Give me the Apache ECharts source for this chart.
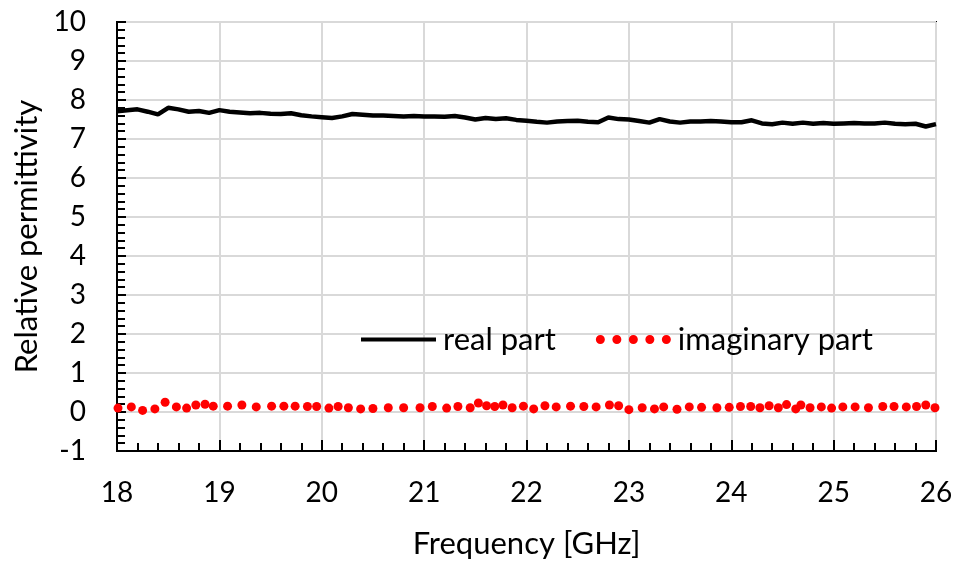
<!DOCTYPE html>
<html>
<head>
<meta charset="utf-8">
<script src="https://cdn.jsdelivr.net/npm/echarts@6/dist/echarts.min.js"></script>
<style>
  html, body { margin: 0; padding: 0; background: #fff; }
  #chart { width: 958px; height: 564px; }
</style>
</head>
<body>
<div id="chart"></div>
<script>
// Real part: measured every 0.1 GHz from 18 to 26 GHz
const realFreq = [
  18.0, 18.1, 18.2, 18.3, 18.4, 18.5, 18.6, 18.7, 18.8, 18.9,
  19.0, 19.1, 19.2, 19.3, 19.4, 19.5, 19.6, 19.7, 19.8, 19.9,
  20.0, 20.1, 20.2, 20.3, 20.4, 20.5, 20.6, 20.7, 20.8, 20.9,
  21.0, 21.1, 21.2, 21.3, 21.4, 21.5, 21.6, 21.7, 21.8, 21.9,
  22.0, 22.1, 22.2, 22.3, 22.4, 22.5, 22.6, 22.7, 22.8, 22.9,
  23.0, 23.1, 23.2, 23.3, 23.4, 23.5, 23.6, 23.7, 23.8, 23.9,
  24.0, 24.1, 24.2, 24.3, 24.4, 24.5, 24.6, 24.7, 24.8, 24.9,
  25.0, 25.1, 25.2, 25.3, 25.4, 25.5, 25.6, 25.7, 25.8, 25.9, 26.0
];
const realPart = [
  7.71, 7.74, 7.76, 7.70, 7.63, 7.80, 7.76, 7.70, 7.72, 7.67,
  7.74, 7.70, 7.68, 7.66, 7.67, 7.65, 7.64, 7.66, 7.61, 7.58,
  7.56, 7.54, 7.58, 7.64, 7.62, 7.60, 7.60, 7.59, 7.58, 7.59,
  7.58, 7.58, 7.57, 7.59, 7.55, 7.50, 7.54, 7.51, 7.53, 7.49,
  7.47, 7.44, 7.42, 7.45, 7.46, 7.47, 7.44, 7.43, 7.55, 7.51,
  7.50, 7.46, 7.42, 7.51, 7.45, 7.42, 7.45, 7.45, 7.46, 7.45,
  7.43, 7.43, 7.48, 7.40, 7.38, 7.42, 7.39, 7.42, 7.39, 7.41,
  7.39, 7.40, 7.41, 7.40, 7.40, 7.42, 7.39, 7.38, 7.39, 7.32, 7.38
];

// Imaginary part: sampled points
const imagFreq = [
  18.01, 18.14, 18.25, 18.37, 18.47, 18.58, 18.68, 18.77, 18.86, 18.94,
  19.08, 19.22, 19.36, 19.51, 19.63, 19.74, 19.86, 19.95, 20.07, 20.16,
  20.26, 20.38, 20.50, 20.65, 20.80, 20.96, 21.08, 21.22, 21.33, 21.45,
  21.53, 21.61, 21.69, 21.77, 21.86, 21.97, 22.07, 22.18, 22.29, 22.43,
  22.56, 22.68, 22.81, 22.90, 23.00, 23.13, 23.25, 23.34, 23.47, 23.59,
  23.71, 23.86, 23.98, 24.09, 24.19, 24.28, 24.37, 24.46, 24.54, 24.63,
  24.68, 24.77, 24.88, 24.98, 25.09, 25.21, 25.34, 25.48, 25.59, 25.71,
  25.81, 25.90, 25.99
];
const imagPart = [
  0.10, 0.13, 0.04, 0.08, 0.25, 0.13, 0.10, 0.18, 0.20, 0.15,
  0.15, 0.18, 0.13, 0.15, 0.15, 0.15, 0.14, 0.14, 0.10, 0.14,
  0.11, 0.08, 0.09, 0.11, 0.11, 0.11, 0.14, 0.10, 0.14, 0.11,
  0.23, 0.16, 0.14, 0.18, 0.11, 0.15, 0.08, 0.16, 0.13, 0.15,
  0.14, 0.13, 0.18, 0.16, 0.06, 0.11, 0.08, 0.13, 0.07, 0.13,
  0.12, 0.11, 0.12, 0.14, 0.14, 0.11, 0.16, 0.11, 0.19, 0.08,
  0.18, 0.11, 0.13, 0.10, 0.13, 0.13, 0.11, 0.14, 0.14, 0.13,
  0.14, 0.18, 0.11
];

const seriesNames = ['real part', 'imaginary part'];
const xTitle = 'Frequency [GHz]';
const yTitle = 'Relative permittivity';

const FONT = 'Lato, "Open Sans", sans-serif';

// Legend icons: a thick bar for the line, five dots in a row for the points
const lineIcon = 'path://M0,0H75V4H0Z';
const dotsIcon = 'path://' + [4.5, 21, 37.5, 54, 70.5].map(function (c) {
  return 'M' + (c - 4.5) + ',4.5a4.5,4.5 0 1,0 9,0a4.5,4.5 0 1,0 -9,0Z';
}).join(' ');

const chart = echarts.init(document.getElementById('chart'), null, { renderer: 'canvas' });

chart.setOption({
  backgroundColor: '#fff',
  animation: false,
  grid: {
    left: 117, right: 22, top: 22, bottom: 113,
    show: true, borderColor: '#000', borderWidth: 2, backgroundColor: 'transparent'
  },
  legend: {
    left: 356, top: 319,
    itemWidth: 75, itemHeight: 9, itemGap: 40,
    textStyle: { fontFamily: FONT, fontSize: 31, color: '#000', padding: [0, 0, 0, 2] },
    data: [
      { name: seriesNames[0], icon: lineIcon },
      { name: seriesNames[1], icon: dotsIcon }
    ]
  },
  xAxis: {
    type: 'value', min: 18, max: 26, interval: 1,
    name: xTitle, nameLocation: 'middle', nameGap: 77,
    nameTextStyle: { fontFamily: FONT, fontSize: 31, color: '#000' },
    axisLine: { show: true, onZero: false, lineStyle: { color: '#000', width: 2 } },
    axisTick: { show: true, inside: true, length: 11, lineStyle: { color: '#000', width: 2 } },
    minorTick: { show: true, splitNumber: 5, length: 8, lineStyle: { color: '#000', width: 2 } },
    axisLabel: { fontFamily: FONT, fontSize: 28, color: '#000', margin: 28 },
    splitLine: { show: true, lineStyle: { color: '#d9d9d9', width: 2 } }
  },
  yAxis: {
    type: 'value', min: -1, max: 10, interval: 1,
    name: yTitle, nameLocation: 'middle', nameGap: 72, nameRotate: 90,
    nameTextStyle: { fontFamily: FONT, fontSize: 31, color: '#000' },
    axisLine: { show: true, onZero: false, lineStyle: { color: '#000', width: 2 } },
    axisTick: { show: true, inside: true, length: 9, lineStyle: { color: '#000', width: 2 } },
    minorTick: { show: true, splitNumber: 5, length: 8, lineStyle: { color: '#000', width: 2 } },
    axisLabel: { fontFamily: FONT, fontSize: 28, color: '#000', margin: 31 },
    splitLine: { show: true, lineStyle: { color: '#d9d9d9', width: 2 } }
  },
  series: [
    {
      name: seriesNames[0],
      type: 'line',
      data: realFreq.map(function (f, i) { return [f, realPart[i]]; }),
      symbol: 'none', showSymbol: false,
      lineStyle: { color: '#000', width: 4.5 },
      itemStyle: { color: '#000' },
      z: 3
    },
    {
      name: seriesNames[1],
      type: 'scatter',
      data: imagFreq.map(function (f, i) { return [f, imagPart[i]]; }),
      symbol: 'circle', symbolSize: 9,
      itemStyle: { color: '#ff0000', opacity: 1 },
      z: 4
    }
  ]
});
</script>
</body>
</html>
